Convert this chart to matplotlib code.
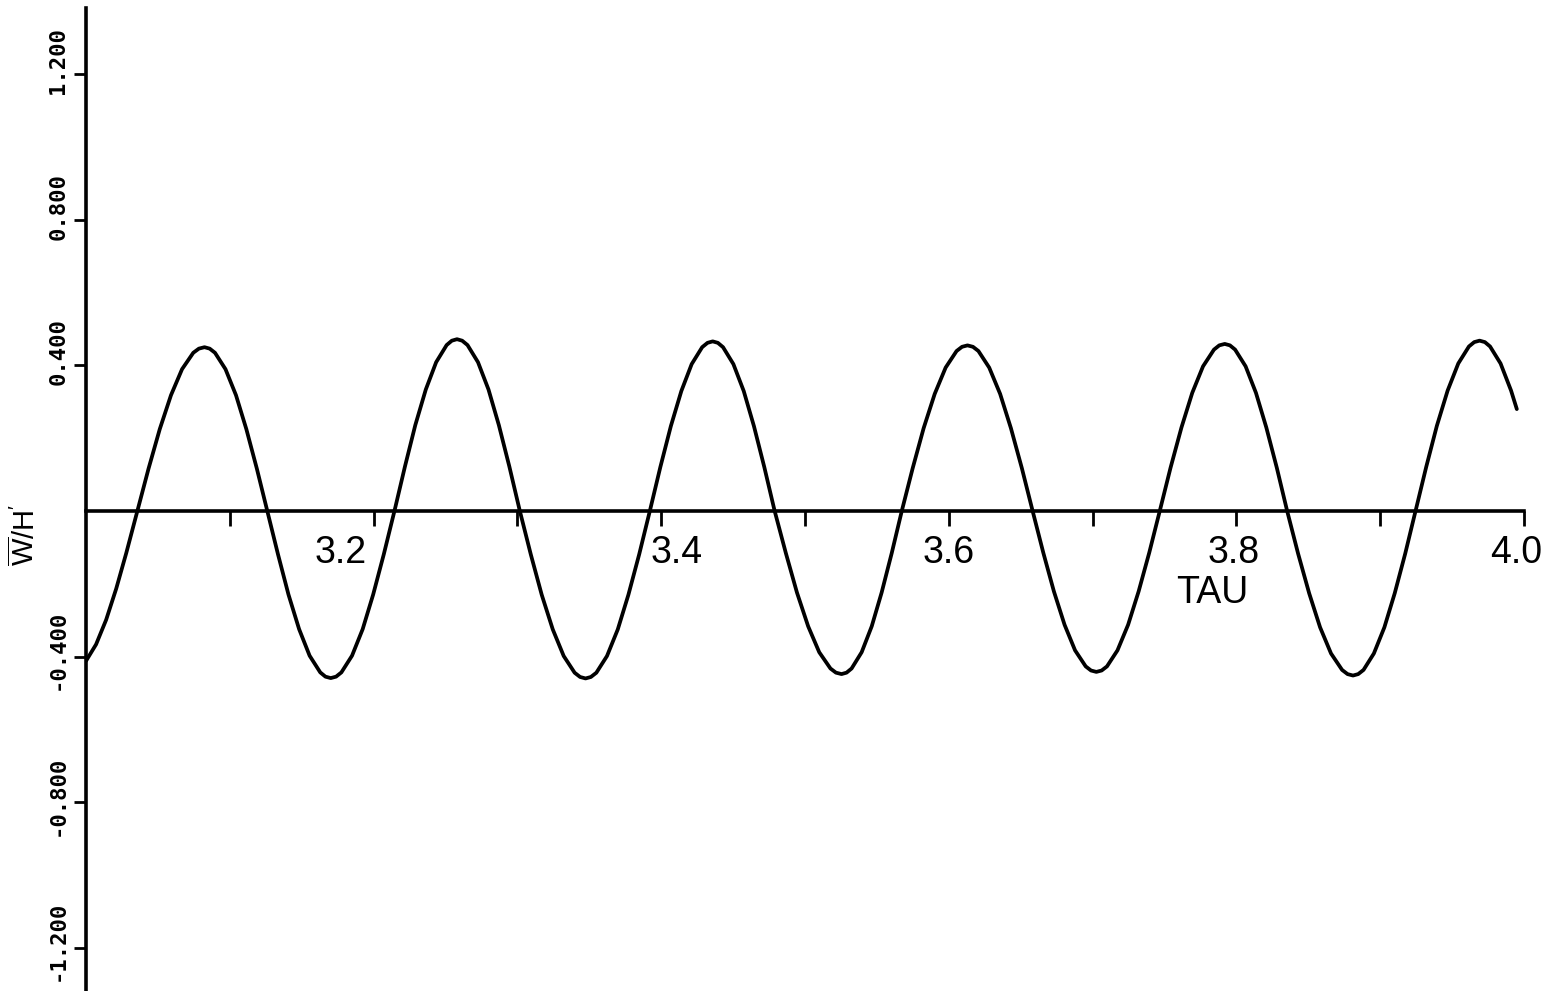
import matplotlib
matplotlib.use('Agg')
import matplotlib.pyplot as plt
from matplotlib.transforms import ScaledTranslation

plt.rcParams['font.family'] = ['Liberation Sans', 'DejaVu Sans']
plt.rcParams['mathtext.fontset'] = 'custom'
plt.rcParams['mathtext.rm'] = 'Liberation Sans'
plt.rcParams['mathtext.it'] = 'Liberation Sans:italic'

# W/H' against TAU, read at the crests, troughs, zero crossings and in between
tau = [
    3.0000, 3.0070, 3.0140, 3.0210, 3.0280, 3.0357,
    3.0435, 3.0513, 3.0591, 3.0668, 3.0746, 3.0785, 3.0824,
    3.0860, 3.0897, 3.0970, 3.1043, 3.1115, 3.1188, 3.1261,
    3.1335, 3.1408, 3.1482, 3.1555, 3.1629, 3.1665, 3.1702,
    3.1739, 3.1776, 3.1850, 3.1924, 3.1997, 3.2071, 3.2145,
    3.2218, 3.2290, 3.2363, 3.2435, 3.2508, 3.2544, 3.2580,
    3.2616, 3.2653, 3.2726, 3.2799, 3.2871, 3.2944, 3.3017,
    3.3093, 3.3169, 3.3246, 3.3322, 3.3398, 3.3436, 3.3474,
    3.3511, 3.3549, 3.3623, 3.3698, 3.3772, 3.3847, 3.3921,
    3.3994, 3.4067, 3.4140, 3.4212, 3.4285, 3.4322, 3.4358,
    3.4394, 3.4430, 3.4502, 3.4574, 3.4645, 3.4717, 3.4789,
    3.4867, 3.4944, 3.5022, 3.5099, 3.5177, 3.5215, 3.5254,
    3.5289, 3.5324, 3.5394, 3.5464, 3.5533, 3.5603, 3.5673,
    3.5749, 3.5825, 3.5902, 3.5978, 3.6054, 3.6092, 3.6130,
    3.6168, 3.6206, 3.6281, 3.6357, 3.6432, 3.6508, 3.6583,
    3.6657, 3.6731, 3.6805, 3.6878, 3.6952, 3.6989, 3.7026,
    3.7063, 3.7100, 3.7173, 3.7247, 3.7320, 3.7394, 3.7467,
    3.7542, 3.7618, 3.7693, 3.7768, 3.7844, 3.7881, 3.7919,
    3.7955, 3.7991, 3.8064, 3.8136, 3.8208, 3.8281, 3.8353,
    3.8429, 3.8506, 3.8582, 3.8658, 3.8735, 3.8773, 3.8811,
    3.8847, 3.8884, 3.8956, 3.9029, 3.9101, 3.9174, 3.9246,
    3.9320, 3.9394, 3.9469, 3.9543, 3.9617, 3.9654, 3.9691,
    3.9728, 3.9764, 3.9837, 3.9910, 3.9950,
]
w_h = [
    -0.412, -0.3665, -0.299, -0.2135, -0.1155, 0.0,
    0.1165, 0.225, 0.3182, 0.3897, 0.4347, 0.4461, 0.450,
    0.4461, 0.4347, 0.3897, 0.3182, 0.225, 0.1165, 0.0,
    -0.1188, -0.2295, -0.3246, -0.3975, -0.4434, -0.4551, -0.459,
    -0.4551, -0.4434, -0.3975, -0.3246, -0.2295, -0.1188, 0.0,
    0.1222, 0.236, 0.3338, 0.4088, 0.4559, 0.4679, 0.472,
    0.4679, 0.4559, 0.4088, 0.3338, 0.236, 0.1222, 0.0,
    -0.1190, -0.230, -0.3253, -0.3984, -0.4443, -0.4560, -0.460,
    -0.4560, -0.4443, -0.3984, -0.3253, -0.230, -0.1190, 0.0,
    0.1206, 0.233, 0.3295, 0.4036, 0.4501, 0.4620, 0.466,
    0.4620, 0.4501, 0.4036, 0.3295, 0.233, 0.1206, 0.0,
    -0.1159, -0.224, -0.3168, -0.388, -0.4327, -0.4441, -0.448,
    -0.4441, -0.4327, -0.388, -0.3168, -0.224, -0.1159, 0.0,
    0.1178, 0.2275, 0.3217, 0.394, 0.4395, 0.4511, 0.455,
    0.4511, 0.4395, 0.394, 0.3217, 0.2275, 0.1178, 0.0,
    -0.1144, -0.221, -0.3125, -0.3828, -0.4269, -0.4382, -0.442,
    -0.4382, -0.4269, -0.3828, -0.3125, -0.221, -0.1144, 0.0,
    0.1188, 0.2295, 0.3246, 0.3975, 0.4434, 0.4551, 0.459,
    0.4551, 0.4434, 0.3975, 0.3246, 0.2295, 0.1188, 0.0,
    -0.117, -0.226, -0.3196, -0.3914, -0.4366, -0.4481, -0.452,
    -0.4481, -0.4366, -0.3914, -0.3196, -0.226, -0.117, 0.0,
    0.1211, 0.234, 0.3309, 0.4053, 0.452, 0.4640, 0.468,
    0.4640, 0.452, 0.4053, 0.3309, 0.280,
]

x_ticks = [3.1, 3.2, 3.3, 3.4, 3.5, 3.6, 3.7, 3.8, 3.9, 4.0]
x_tick_labels = ['', '3.2', '', '3.4', '', '3.6', '', '3.8', '', '4.0']
y_ticks = [-1.2, -0.8, -0.4, 0.4, 0.8, 1.2]
y_tick_labels = ['-1.200', '-0.800', '-0.400', '0.400', '0.800', '1.200']

fig = plt.figure(figsize=(15.6, 9.91), dpi=100)
ax = fig.add_axes([86 / 1560, 0.0, 1438 / 1560, 983 / 991])

ax.plot(tau, w_h, color='black', lw=2.7, solid_joinstyle='round',
        solid_capstyle='round')

ax.set_xlim(3.0, 4.0)
ax.set_ylim(-1.3187, 1.3819)

for side in ('top', 'right'):
    ax.spines[side].set_visible(False)
ax.spines['bottom'].set_position(('data', 0))
ax.spines['bottom'].set_linewidth(2.6)
ax.spines['left'].set_linewidth(2.6)

ax.set_xticks(x_ticks)
ax.set_xticklabels(x_tick_labels, fontsize=27)
ax.tick_params(axis='x', direction='out', length=11, width=2.0, pad=6)

ax.set_yticks(y_ticks)
fs_y = 16
ax.set_yticklabels(y_tick_labels, fontsize=fs_y, fontweight='bold',
                   family='DejaVu Sans Mono')
ax.tick_params(axis='y', direction='out', length=8.5, width=2.0, pad=11.5)

# x labels are printed a little off their ticks (pixels)
x_shift = [0, -33, 0, 15, 0, 0, 0, -3, 0, -8]
for lab, dx in zip(ax.get_xticklabels(), x_shift):
    lab.set_transform(lab.get_transform()
                      + ScaledTranslation(dx * 0.72 / 72, 0, fig.dpi_scale_trans))

# y labels run upwards with the decimal point sitting on the tick
char_w = 0.602 * fs_y
for lab in ax.get_yticklabels():
    lead = lab.get_text().index('.') + 0.5
    lab.set_rotation(90)
    lab.set_rotation_mode('anchor')
    lab.set_ha('left')
    lab.set_va('center')
    lab.set_transform(lab.get_transform()
                      + ScaledTranslation(0, -lead * char_w / 72, fig.dpi_scale_trans))

ax.set_xlabel('TAU', fontsize=27, va='center')
ax.xaxis.set_label_coords((1212 - 86) / 1438, (991 - 593) / 983)

ax.set_ylabel(r"$\overline{\mathrm{W}}/\mathrm{H}'$", fontsize=21, va='center')
ax.yaxis.set_label_coords((25 - 86) / 1438, (991 - 535) / 983)

fig.savefig('out.png', dpi=100, facecolor='white')
